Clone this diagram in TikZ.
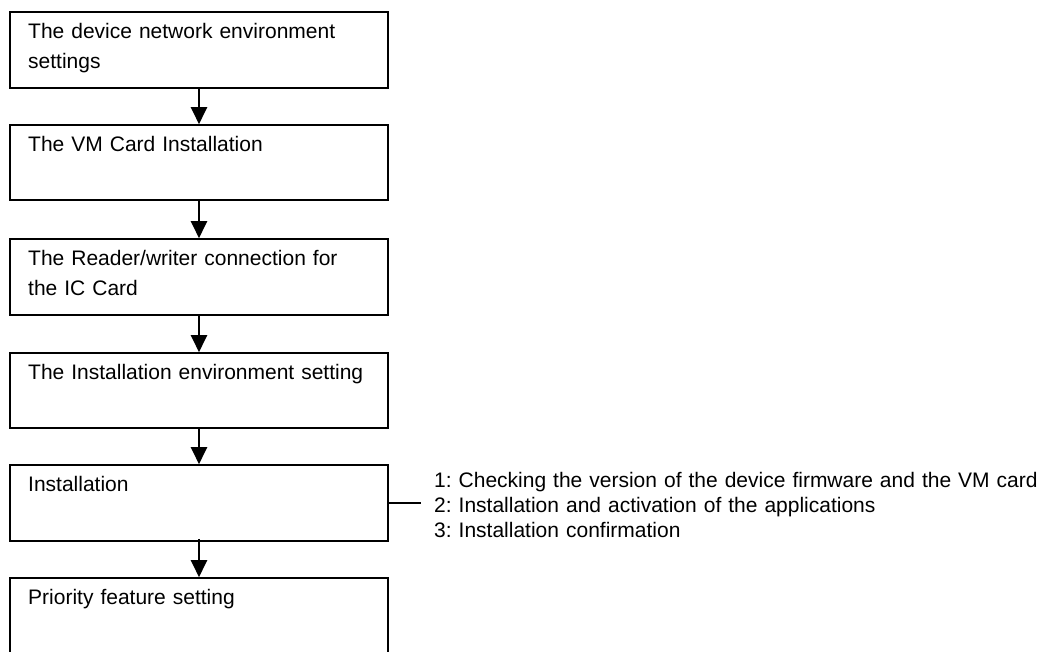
\documentclass[tikz,border=0pt]{standalone}
\usepackage{fontspec}
\setmainfont{Liberation Sans}
\usetikzlibrary{arrows.meta}
\frenchspacing
\begin{document}
\begin{tikzpicture}[x=1pt,y=-1pt,
  stepbox/.style={draw=black,line width=1.6pt,rectangle,minimum width=378pt,inner sep=0pt},
  boxtext/.style={anchor=base west,inner sep=0pt,text width=355pt,align=left,font=\fontsize{21}{30}\selectfont},
  sidetext/.style={anchor=base west,inner sep=0pt,text width=620pt,align=left,font=\fontsize{21}{25}\selectfont},
  arr/.style={line width=2.2pt,-{Triangle[width=16pt,length=17pt]}},
  conn/.style={line width=1.4pt}]
\useasboundingbox (0,0) rectangle (1040,651);
\clip (0,0) rectangle (1040,651);
\node[stepbox,minimum height=76pt] (b1) at (199,50) {};
\node[stepbox,minimum height=75pt] (b2) at (199,162.5) {};
\node[stepbox,minimum height=76pt] (b3) at (199,277) {};
\node[stepbox,minimum height=75pt] (b4) at (199,390.5) {};
\node[stepbox,minimum height=76pt] (b5) at (199,503) {};
\node[stepbox,minimum height=80pt] (b6) at (199,618) {};
\node[boxtext] (t1) at (28,38) {The device network environment\\settings};
\node[boxtext] (t2) at (28,151) {The VM Card Installation};
\node[boxtext] (t3) at (28,265) {The Reader/writer connection for\\the IC Card};
\node[boxtext] (t4) at (28,379) {The Installation environment setting};
\node[boxtext] (t5) at (28,491) {Installation};
\node[boxtext] (t6) at (28,604) {Priority feature setting};
\draw[arr] (b1.south) -- (b2.north);
\draw[arr] (b2.south) -- (b3.north);
\draw[arr] (b3.south) -- (b4.north);
\draw[arr] ([yshift=1.5pt]b4.south) -- (b5.north);
\draw[arr] ([yshift=3pt]b5.south) -- (b6.north);
\coordinate (c5) at (421,503);
\draw[conn] (b5.east) -- (c5);
\node[sidetext] (s1) at (434,487) {1: Checking the version of the device firmware and the VM card\\2: Installation and activation of the applications\\3: Installation confirmation};
\end{tikzpicture}
\end{document}
